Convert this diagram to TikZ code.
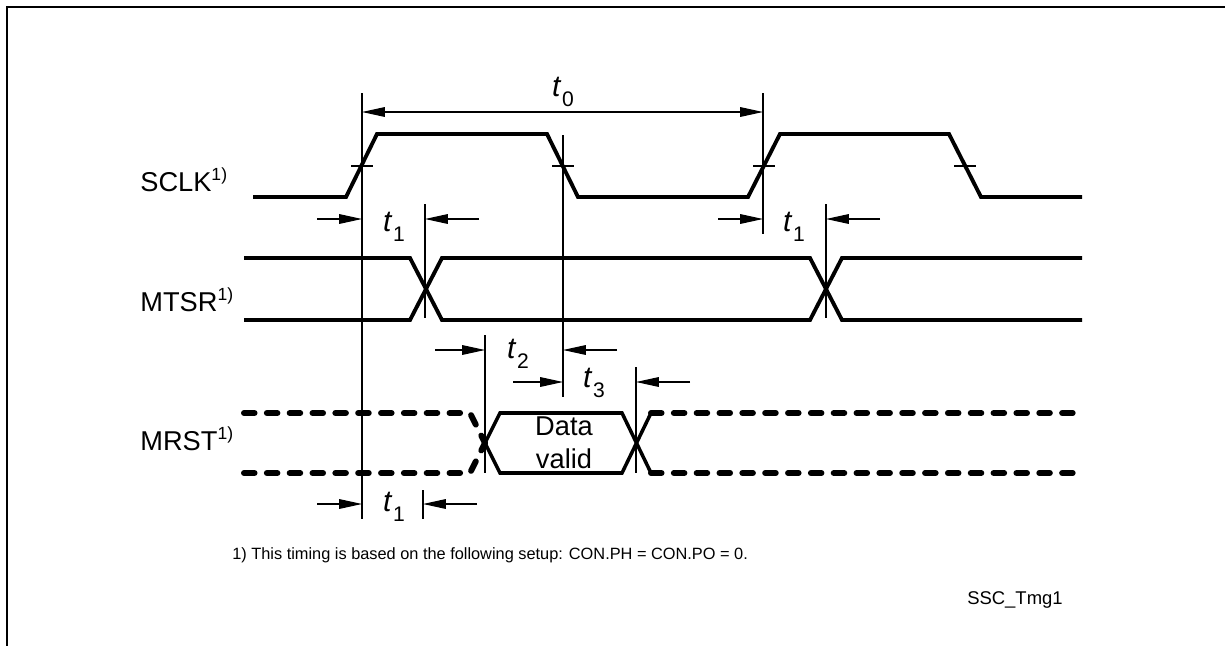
\documentclass[tikz,border=0pt]{standalone}
\usepackage{fontspec}
\setmainfont{Liberation Sans}
\usetikzlibrary{arrows.meta}
\newcommand{\tsub}[1]{\textit{t}\kern0.4pt\raisebox{-0.65ex}{\fontsize{12}{12}\selectfont #1}}
\newcommand{\fnmark}{\raisebox{0.75ex}{\fontsize{10}{10}\selectfont 1)}}

\begin{document}
\begin{tikzpicture}[x=0.02cm, y=-0.02cm,
  sig/.style={line width=2.2pt},
  dsig/.style={line width=3.4pt, line cap=round, dash pattern=on 6pt off 7pt},
  guide/.style={line width=0.6pt},
  dim/.style={line width=0.6pt, -{Triangle[length=13pt,width=5.5pt]}},
  lbl/.style={font=\fontsize{15.5}{17}\selectfont, inner sep=0pt},
  tlbl/.style={font=\fontsize{17}{18}\selectfont, inner sep=0pt},
  note/.style={font=\fontsize{9.3}{11}\selectfont, inner sep=0pt},
]
  \useasboundingbox (0,0) rectangle (1225,646);
  % frame
  \draw[line width=1.3pt] (7,646) -- (7,7) -- (1225,7);

  % signal names
  \node[lbl, anchor=west] (sclk) at (140,180) {SCLK\fnmark};
  \node[lbl, anchor=west] (mtsr) at (140,300) {MTSR\fnmark};
  \node[lbl, anchor=west] (mrst) at (140,439) {MRST\fnmark};

  % SCLK
  \draw[sig] (253,197) -- (346,197) -- (377,134) -- (547,134) -- (578,197)
    -- (748,197) -- (780,134) -- (949,134) -- (981,197) -- (1082,197);
  \foreach \x in {362,563,764,965}
    \draw[guide] (\x-11,166) -- (\x+11,166);

  % MTSR
  \draw[sig] (244,258) -- (410,258) -- (442,320) -- (810,320) -- (842,258) -- (1082,258);
  \draw[sig] (244,320) -- (410,320) -- (442,258) -- (810,258) -- (842,320) -- (1082,320);

  % MRST
  \draw[dsig] (244,413) -- (470,413) -- (485,443);
  \draw[dsig] (244,473) -- (470,473) -- (485,443);
  \draw[sig, line width=2pt] (485,443) -- (500,413) -- (622,413) -- (651,473);
  \draw[sig, line width=2pt] (485,443) -- (500,473) -- (622,473) -- (651,413);
  \draw[dsig] (651,413) -- (1082,413);
  \draw[dsig] (651,473) -- (1082,473);
  \node[lbl, align=center, font=\fontsize{15.5}{18.5}\selectfont] (valid) at (564,443) {Data\\valid};

  % reference lines
  \foreach \x/\ya/\yb in {362/93/519, 425/204/318, 563/135/397, 763/93/234,
                          826/204/318, 485/335/473, 636/367/473, 423/490/519}
    \draw[guide] (\x,\ya) -- (\x,\yb);

  % timing arrows
  \draw[guide, {Triangle[length=13pt,width=5.5pt]}-{Triangle[length=13pt,width=5.5pt]}]
    (362,112) -- (763,112);
  \foreach \xa/\xb/\y in {317/362/219, 479/425/219, 718/763/219, 880/826/219,
                          435/485/350, 617/563/350, 513/563/382, 690/636/382,
                          317/362/504, 477/423/504}
    \draw[dim] (\xa,\y) -- (\xb,\y);

  \node[tlbl] (tzero)  at (563,92)  {\tsub{0}};
  \node[tlbl] (tone)   at (394,227) {\tsub{1}};
  \node[tlbl] (tonea)  at (794,227) {\tsub{1}};
  \node[tlbl] (ttwo)   at (518,354) {\tsub{2}};
  \node[tlbl] (tthree) at (594,383) {\tsub{3}};
  \node[tlbl] (toneb)  at (394,507) {\tsub{1}};

  % footnote and figure id
  \node[note, anchor=west] (foot) at (232,555)
    {1) This timing is based on the following setup: CON.PH = CON.PO = 0.};
  \node[note, font=\fontsize{10.5}{12}\selectfont, anchor=east] (figid) at (1063,600) {SSC\_Tmg1};
\end{tikzpicture}
\end{document}
